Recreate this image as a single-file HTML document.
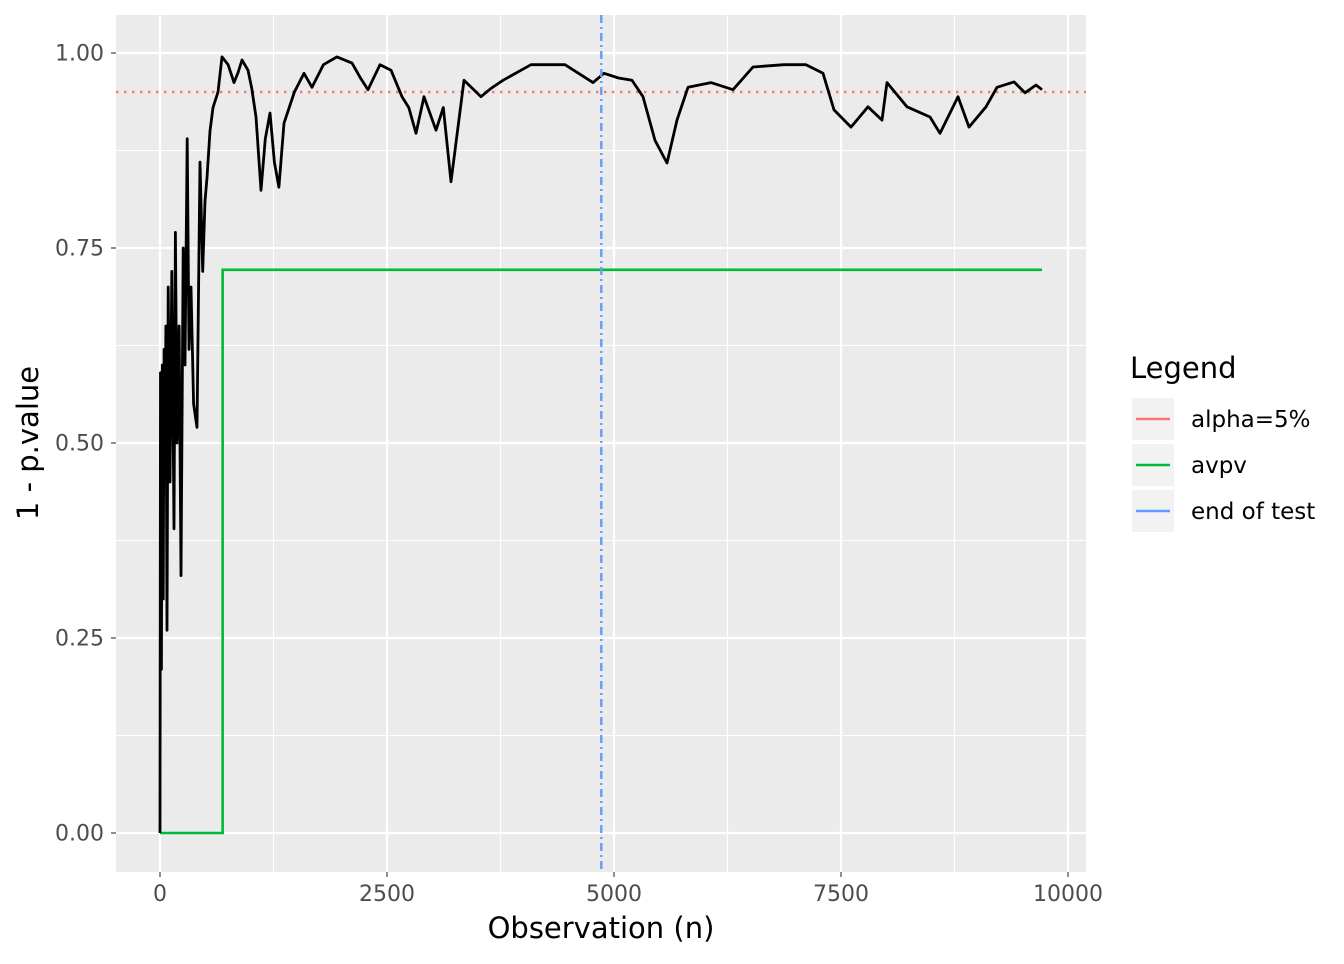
<!DOCTYPE html>
<html><head><meta charset="utf-8"><style>
body{margin:0;background:#fff;font-family:"DejaVu Sans","Liberation Sans",sans-serif}
svg text{font-family:"DejaVu Sans","Liberation Sans",sans-serif}
</style></head><body>
<svg id="chart" width="1344" height="960" xmlns="http://www.w3.org/2000/svg"></svg>
<script>
const xTicks=[0,2500,5000,7500,10000];
const xTickLabels=["0","2500","5000","7500","10000"];
const yTicks=[0,0.25,0.5,0.75,1];
const yTickLabels=["0.00","0.25","0.50","0.75","1.00"];
const obs=[0,5,15,25,35,45,55,65,77,90,110,130,154,170,187,210,231,255,275,300,319,341,370,407,440,470,496,518,551,584,639,683,750,815,860,903,969,1010,1057,1112,1160,1211,1260,1310,1366,1480,1586,1674,1800,1949,2115,2203,2291,2423,2544,2665,2740,2819,2907,3040,3120,3205,3348,3535,3650,3778,4086,4460,4769,4890,5050,5198,5319,5452,5584,5694,5815,6068,6311,6531,6872,7115,7302,7423,7610,7797,7952,8007,8227,8480,8590,8789,8910,9097,9218,9405,9526,9648,9714];
const pval=[0,0.59,0.21,0.6,0.3,0.62,0.5,0.65,0.26,0.70,0.45,0.72,0.39,0.77,0.5,0.65,0.33,0.75,0.6,0.89,0.62,0.7,0.55,0.52,0.86,0.72,0.81,0.84,0.9,0.93,0.95,0.995,0.985,0.962,0.975,0.991,0.978,0.955,0.918,0.824,0.89,0.923,0.86,0.828,0.91,0.95,0.974,0.956,0.985,0.995,0.987,0.969,0.953,0.985,0.978,0.944,0.93,0.897,0.944,0.901,0.93,0.835,0.965,0.944,0.955,0.965,0.985,0.985,0.962,0.974,0.968,0.965,0.944,0.888,0.859,0.914,0.956,0.962,0.953,0.982,0.985,0.985,0.974,0.927,0.905,0.931,0.914,0.962,0.931,0.918,0.897,0.944,0.905,0.931,0.956,0.963,0.949,0.959,0.953];
const avpvObs=[0,690,690,9714];
const avpvVal=[0,0,0.722,0.722];
const alphaLevel=0.95;
const endOfTest=4860;

const svg=document.getElementById('chart');
const NS='http://www.w3.org/2000/svg';
const L=116,R=1086,T=15,B=872;
const xs=v=>160+v*(908/10000);
const ys=v=>833-v*780;
function el(tag,attrs,parent){const e=document.createElementNS(NS,tag);for(const k in attrs)e.setAttribute(k,attrs[k]);(parent||svg).appendChild(e);return e;}

const panel=el('rect',{x:L,y:T,width:R-L,height:B-T,fill:'#ebebeb'});


for(let i=0;i<xTicks.length-1;i++){const m=(xTicks[i]+xTicks[i+1])/2;const g=el('line',{x1:xs(m),x2:xs(m),y1:T,y2:B,stroke:'#fff','stroke-width':1.1});

}
for(let i=0;i<yTicks.length-1;i++){const m=(yTicks[i]+yTicks[i+1])/2;const g=el('line',{x1:L,x2:R,y1:ys(m),y2:ys(m),stroke:'#fff','stroke-width':1.1});

}
xTicks.forEach((t,i)=>{
const g=el('line',{x1:xs(t),x2:xs(t),y1:T,y2:B,stroke:'#fff','stroke-width':2.2});


const tk=el('line',{x1:xs(t),x2:xs(t),y1:B,y2:B+5,stroke:'#333','stroke-width':1.1});


const tx=el('text',{x:xs(t),y:B+29,'text-anchor':'middle','font-size':'22',fill:'#4d4d4d'});tx.textContent=xTickLabels[i];


});
yTicks.forEach((t,i)=>{
const g=el('line',{x1:L,x2:R,y1:ys(t),y2:ys(t),stroke:'#fff','stroke-width':2.2});


const tk=el('line',{x1:L-5,x2:L,y1:ys(t),y2:ys(t),stroke:'#333','stroke-width':1.1});


const tx=el('text',{x:L-12,y:ys(t)+7.5,'text-anchor':'end','font-size':'22',fill:'#4d4d4d'});tx.textContent=yTickLabels[i];


});
const al=el('line',{x1:L,x2:R,y1:ys(alphaLevel),y2:ys(alphaLevel),stroke:'#f8766d','stroke-width':2.4,'stroke-dasharray':'2.4 5.6'});


const gl=el('path',{d:avpvObs.map((o,i)=>(i?'L':'M')+xs(o)+','+ys(avpvVal[i])).join(''),fill:'none',stroke:'#00ba38','stroke-width':2.6});


const bl=el('path',{d:obs.map((o,i)=>(i?'L':'M')+xs(o).toFixed(1)+','+ys(pval[i]).toFixed(1)).join(''),fill:'none',stroke:'#000','stroke-width':2.8,'stroke-linejoin':'round'});


const el2=el('line',{x1:xs(endOfTest),x2:xs(endOfTest),y1:T,y2:B,stroke:'#619cff','stroke-width':2.4,'stroke-dasharray':'8 4 2 4'});



const xt=el('text',{x:601,y:938,'text-anchor':'middle','font-size':'29',fill:'#000'});xt.textContent='Observation (n)';


const yt=el('text',{x:0,y:0,'text-anchor':'middle','font-size':'29',fill:'#000',transform:'translate(38,443) rotate(-90)'});yt.textContent='1 - p.value';



const lt=el('text',{x:1130,y:378,'font-size':'29',fill:'#000'});lt.textContent='Legend';


const leg=[['alpha=5%','#f8766d',398],['avpv','#00ba38',444],['end of test','#619cff',490]];
leg.forEach(([lab,c,y])=>{
const k=el('rect',{x:1132,y:y,width:42,height:42,fill:'#f2f2f2'});


const ln=el('line',{x1:1136,x2:1170,y1:y+21,y2:y+21,stroke:c,'stroke-width':2.6});


const t=el('text',{x:1191,y:y+29,'font-size':'23',fill:'#000'});t.textContent=lab;


});
</script>
</body></html>
